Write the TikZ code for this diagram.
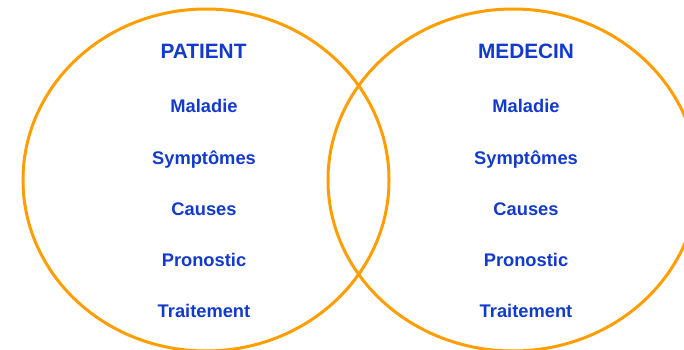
\documentclass[tikz,border=0pt]{standalone}
\usepackage{fontspec}
\setmainfont{Liberation Sans}
\definecolor{ringorange}{RGB}{255,158,0}
\definecolor{labelblue}{RGB}{18,58,204}
\begin{document}
\begin{tikzpicture}[x=1pt,y=-1pt,
  ring/.style={draw=ringorange,line width=3pt},
  heading/.style={text=labelblue,font=\fontsize{20.8}{24}\selectfont\bfseries,anchor=base,inner sep=0pt},
  item/.style={text=labelblue,font=\fontsize{18.3}{21}\selectfont\bfseries,anchor=base,inner sep=0pt}]
  \useasboundingbox (0,0) rectangle (684,350);
  % the two overlapping rings
  \draw[ring] (206,180) ellipse [x radius=183,y radius=171];
  \draw[ring] (513,180) ellipse [x radius=185,y radius=171];
  % left column
  \node[heading] (pat) at (203.5,59) {PATIENT};
  \node[item] (pmal) at (204,113) {Maladie};
  \node[item] (psym) at (204,164) {Symptômes};
  \node[item] (pcau) at (204,215) {Causes};
  \node[item] (ppro) at (204,266) {Pronostic};
  \node[item] (ptra) at (204,317) {Traitement};
  % right column
  \node[heading] (med) at (526,59) {MEDECIN};
  \node[item] (mmal) at (526,113) {Maladie};
  \node[item] (msym) at (526,164) {Symptômes};
  \node[item] (mcau) at (526,215) {Causes};
  \node[item] (mpro) at (526,266) {Pronostic};
  \node[item] (mtra) at (526,317) {Traitement};
\end{tikzpicture}
\end{document}
